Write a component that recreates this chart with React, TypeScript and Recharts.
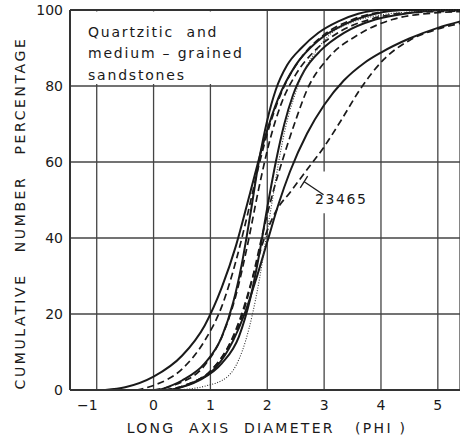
import React from 'react';
import {
    LineChart,
    Line,
    XAxis,
    YAxis,
    CartesianGrid,
    ReferenceArea,
    ReferenceLine,
    ReferenceDot,
} from 'recharts';

// each curve: [phi, cumulative %]
const solidA = [[-0.85, 0], [-0.5, 0.7], [0, 3.5], [0.5, 9], [0.9, 17], [1.2, 27], [1.45, 38], [1.7, 52], [1.95, 66], [2.2, 77], [2.5, 85.5], [2.9, 92], [3.4, 96.5], [3.9, 99], [4.4, 100], [5.4, 100]];
const solidB = [[0.1, 0], [0.5, 2.5], [0.9, 7], [1.2, 14], [1.4, 23], [1.55, 33], [1.7, 46], [1.85, 60], [2, 71], [2.15, 79], [2.35, 85.5], [2.6, 90], [2.9, 94], [3.25, 97], [3.6, 99], [4, 100], [5.4, 100]];
const solidC = [[0.3, 0], [0.8, 2.5], [1.2, 7], [1.5, 14], [1.7, 24], [1.85, 35], [2, 48], [2.15, 60], [2.3, 70], [2.45, 77.5], [2.65, 84], [2.95, 89.5], [3.35, 94], [3.9, 97.5], [4.5, 99.2], [5.2, 100], [5.4, 100]];
const solidD = [[0.3, 0], [0.7, 2], [1.1, 6], [1.4, 13], [1.6, 20], [1.8, 29], [2, 39], [2.2, 49], [2.4, 57.5], [2.7, 67.5], [3, 75], [3.35, 81.5], [3.7, 86], [4, 88.8], [4.5, 92.5], [5, 95.3], [5.4, 97]];
const dashA = [[-0.3, 0], [0, 1.2], [0.5, 5.5], [0.9, 13], [1.2, 22], [1.45, 34], [1.65, 46], [1.85, 59], [2.05, 70], [2.3, 80], [2.6, 87.5], [3, 93.5], [3.5, 97.5], [4, 99.5], [4.4, 100], [5.4, 100]];
const dashB = [[0, 0], [0.4, 1.5], [0.9, 6.5], [1.2, 14], [1.45, 25], [1.65, 38], [1.85, 53], [2.05, 66], [2.25, 75.5], [2.5, 83], [2.85, 89.5], [3.3, 94.5], [3.8, 97.5], [4.4, 99.2], [5.4, 99.7]];
const dashC = [[0.2, 0], [0.6, 1.5], [1, 5], [1.3, 11], [1.5, 17], [1.7, 27], [1.9, 40], [2.1, 52], [2.3, 62], [2.5, 71], [2.7, 79], [3.05, 87], [3.6, 93.5], [4.2, 97.5], [5, 99.3], [5.4, 99.6]];
const dash23465 = [[0.2, 0], [0.6, 1.5], [1, 5], [1.3, 11], [1.55, 20], [1.75, 30], [1.95, 40], [2.15, 47], [2.4, 52], [2.7, 58], [3, 64], [3.3, 71], [3.65, 79.5], [4.05, 87], [4.5, 92], [5, 95], [5.4, 96.5]];
const dotted = [[0.4, 0], [0.9, 1], [1.3, 3.5], [1.5, 8], [1.62, 13], [1.74, 20], [1.86, 29], [1.98, 40], [2.09, 50], [2.2, 60], [2.32, 69], [2.47, 77], [2.65, 84], [2.85, 89], [3.1, 93.5], [3.5, 96.8], [4, 98.7], [4.6, 99.6], [5.2, 100], [5.4, 100]];

const xTicks = [-1, 0, 1, 2, 3, 4, 5];
const yTicks = [0, 20, 40, 60, 80, 100];
const boxLines = ['Quartzitic  and', 'medium \u2013 grained', 'sandstones'];
const xTitle = 'LONG  AXIS  DIAMETER   (PHI )';
const yTitle = 'CUMULATIVE   NUMBER   PERCENTAGE';

const toPts = (c: number[][]) => c.map(([phi, pct]) => ({ phi, pct }));

const FONT = '"DejaVu Sans", sans-serif';
const INK = '#1a1a1a';

const solids = [solidA, solidB, solidC, solidD];
const dashes = [dashA, dashB, dashC, dash23465];

const XTick = (props: any) => {
    const { x, y, payload } = props;
    const v = payload.value;
    const label = v < 0 ? '\u2212' + Math.abs(v) : String(v);
    return (
        <text x={v < 0 ? x + 1 : x} y={y} dy="0.71em" textAnchor={v < 0 ? 'end' : 'middle'}
            fontFamily={FONT} fontSize={14} fill={INK}>
            {label}
        </text>
    );
};

const BoxText = (props: any) => {
    const { viewBox } = props;
    if (!viewBox) return null;
    return (
        <g>
            {boxLines.map((t, i) => (
                <text key={i} x={viewBox.x + 18} y={viewBox.y + 25 + i * 21.5} xmlSpace="preserve"
                    fontFamily={FONT} fontSize={14} letterSpacing={1.8} fill={INK}>
                    {t}
                </text>
            ))}
        </g>
    );
};

const XTitle = (props: any) => {
    const { viewBox } = props;
    if (!viewBox) return null;
    return (
        <text x={viewBox.x + viewBox.width / 2 + 2} y={viewBox.y + 43} textAnchor="middle" xmlSpace="preserve"
            fontFamily={FONT} fontSize={14} letterSpacing={2.3} fill={INK}>
            {xTitle}
        </text>
    );
};

const YTitle = (props: any) => {
    const { viewBox } = props;
    if (!viewBox) return null;
    const cx = viewBox.x + 25;
    const cy = viewBox.y + viewBox.height / 2 + 13;
    return (
        <text x={cx} y={cy} transform={`rotate(-90 ${cx} ${cy})`} textAnchor="middle" xmlSpace="preserve"
            fontFamily={FONT} fontSize={14} letterSpacing={2.6} fill={INK}>
            {yTitle}
        </text>
    );
};

export default function App() {
    return (
        <div style={{ position: 'absolute', left: 0, top: 0, background: '#fff' }}>
            <LineChart width={460} height={438} margin={{ top: 10, right: 0, bottom: 0, left: 0 }}>
                <CartesianGrid stroke="#444" strokeWidth={1.3} />
                <XAxis type="number" dataKey="phi" domain={[-1.47, 5.39]} ticks={xTicks}
                    allowDataOverflow height={48} tickLine={false} tickSize={0} tickMargin={10}
                    stroke="#333" strokeWidth={2} tick={<XTick />} label={<XTitle />} />
                <YAxis type="number" domain={[0, 100]} ticks={yTicks} width={70}
                    tickLine={false} tickSize={5} tickMargin={2} stroke="#333" strokeWidth={2}
                    tick={{ fontFamily: FONT, fontSize: 14, fill: INK }} label={<YTitle />} />
                <ReferenceArea x1={-1.47} x2={1.9} y1={80.5} y2={99.6} fill="#fff" fillOpacity={1}
                    stroke="none" label={<BoxText />} />
                <ReferenceArea x1={2.8} x2={3.8} y1={46.5} y2={57.5} fill="#fff" fillOpacity={1} stroke="none" />
                <ReferenceLine y={100} stroke="#333" strokeWidth={2} />
                {solids.map((c, i) => (
                    <Line key={'s' + i} data={toPts(c)} dataKey="pct" type="monotone" stroke={INK}
                        strokeWidth={2} dot={false} isAnimationActive={false} />
                ))}
                {dashes.map((c, i) => (
                    <Line key={'d' + i} data={toPts(c)} dataKey="pct" type="monotone" stroke={INK}
                        strokeWidth={1.7} strokeDasharray="7 4" dot={false} isAnimationActive={false} />
                ))}
                <Line data={toPts(dotted)} dataKey="pct" type="monotone" stroke="#333"
                    strokeWidth={1.1} strokeDasharray="1 1.6" dot={false} isAnimationActive={false} />
                <ReferenceLine segment={[{ x: 2.65, y: 54.8 }, { x: 2.99, y: 51.4 }]} stroke={INK} strokeWidth={1.3} />
                <ReferenceLine segment={[{ x: 2.58, y: 53.2 }, { x: 2.71, y: 56.3 }]} stroke={INK} strokeWidth={1.3} />
                <ReferenceDot x={3.3} y={50.2} r={0} stroke="none"
                    label={{ value: '23465', position: 'center', style: { fontFamily: FONT, fontSize: 14, letterSpacing: 1.6, fill: INK } }} />
            </LineChart>
        </div>
    );
}
